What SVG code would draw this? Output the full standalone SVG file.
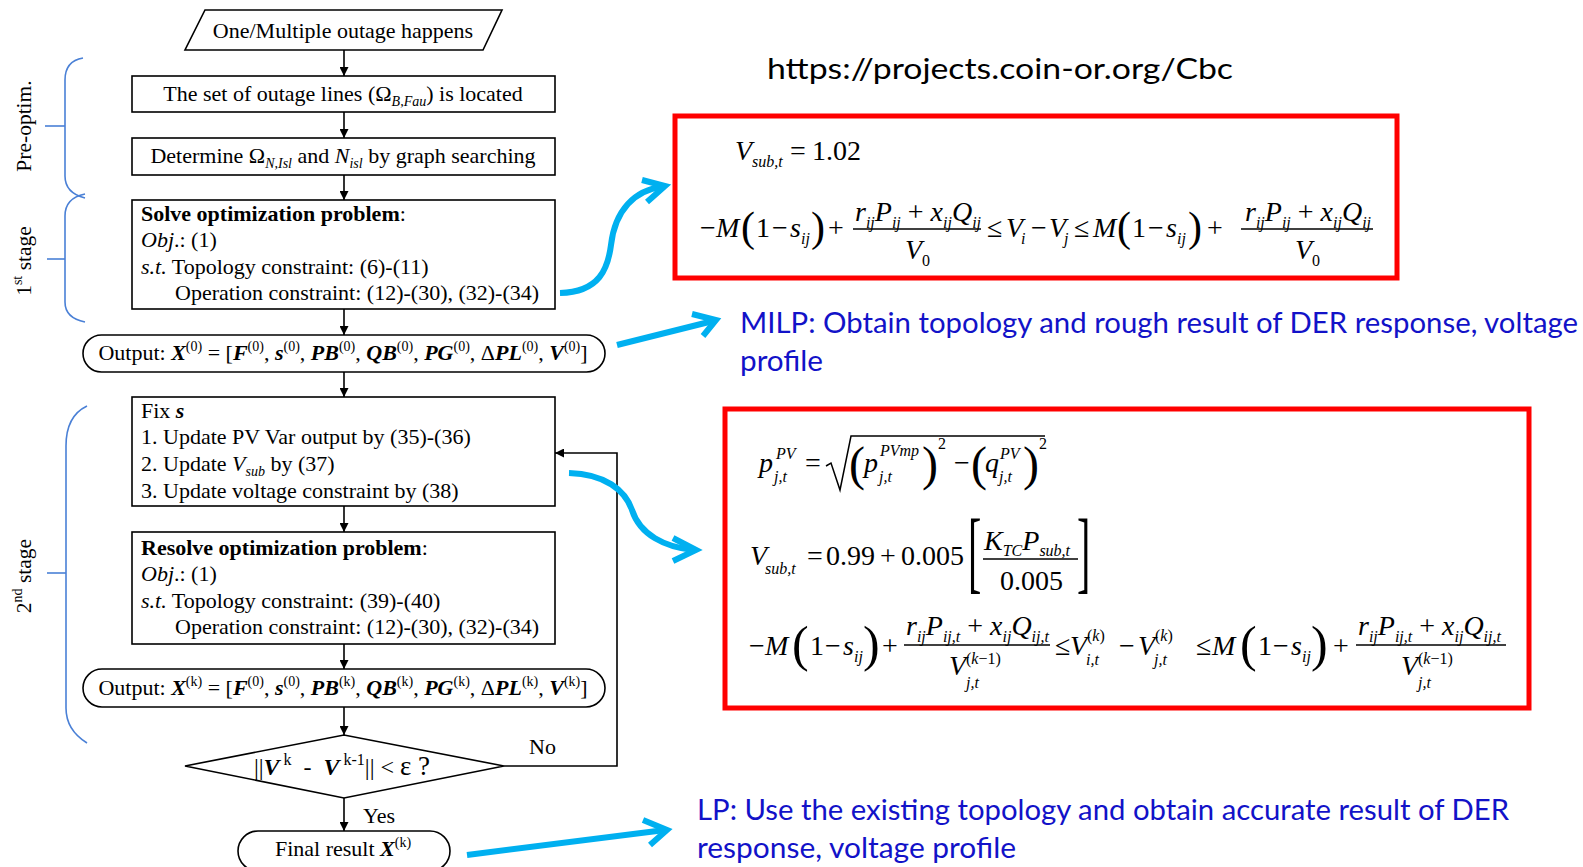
<svg xmlns="http://www.w3.org/2000/svg" width="1583" height="867" viewBox="0 0 1583 867">
<defs>
<marker id="ah" viewBox="0 0 10 10" refX="10" refY="5" markerWidth="10" markerHeight="9" markerUnits="userSpaceOnUse" orient="auto"><path d="M0,0 L10,5 L0,10 z" fill="#000"/></marker>
<style>
.t{font-family:"Liberation Serif","Times New Roman",serif;font-size:22px;fill:#000}
.lb{font-size:21.5px}
.dt{font-size:24px}
.b{font-weight:bold}
.i{font-style:italic}
.bi{font-weight:bold;font-style:italic}
.sb{font-size:14px;font-style:italic;font-weight:normal}
.sp{font-size:14px;font-style:normal;font-weight:normal}
.sp2{font-size:16px;font-style:normal;font-weight:normal}
.eps{font-size:27px}
.box{fill:#fff;stroke:#000;stroke-width:1.6}
.con{fill:none;stroke:#000;stroke-width:1.6}
.brk{fill:none;stroke:#4a80d6;stroke-width:1.6}
.cy{fill:none;stroke:#00b0f0;stroke-width:6}
.red{fill:#fff;stroke:#ff0000;stroke-width:5}
.m{font-family:"Liberation Serif","Times New Roman",serif;font-size:28px;fill:#000}
.mi{font-family:"Liberation Serif","Times New Roman",serif;font-size:28px;font-style:italic;fill:#000}
.s16{font-family:"Liberation Serif","Times New Roman",serif;font-size:16px;font-style:italic;fill:#000}
.u16{font-family:"Liberation Serif","Times New Roman",serif;font-size:16px;font-style:normal;fill:#000}
.up{font-style:normal}
.bar{stroke:#000;stroke-width:1.3}
.cal{font-family:Lato,"Open Sans",sans-serif;font-size:29px}
.lbl{fill:#1212c8}
</style>
</defs>
<rect width="1583" height="867" fill="#fff"/>

<g id="brackets">
<path class="brk" d="M83 58 Q65 61 65 80 L65 176 Q65 193 85 198"/>
<path class="brk" d="M45 126 H65"/>
<text class="t lb" transform="translate(31,126) rotate(-90)" text-anchor="middle">Pre-optim.</text>
<path class="brk" d="M85 194 Q65 198 65 216 L65 302 Q65 318 85 322"/>
<path class="brk" d="M47 259 H65"/>
<text class="t lb" transform="translate(31,261) rotate(-90)" text-anchor="middle">1<tspan class="sp" dy="-9">st</tspan><tspan dy="9"> stage</tspan></text>
<path class="brk" d="M87 406 Q66 416 66 446 L66 708 Q66 730 87 743"/>
<path class="brk" d="M47 573 H66"/>
<text class="t lb" transform="translate(31,576) rotate(-90)" text-anchor="middle">2<tspan class="sp" dy="-9">nd</tspan><tspan dy="9"> stage</tspan></text>
</g>

<g id="connectors">
<path class="con" d="M344 50 V76" marker-end="url(#ah)"/>
<path class="con" d="M344 112 V138" marker-end="url(#ah)"/>
<path class="con" d="M344 175 V200" marker-end="url(#ah)"/>
<path class="con" d="M344 309 V335" marker-end="url(#ah)"/>
<path class="con" d="M344 372 V397" marker-end="url(#ah)"/>
<path class="con" d="M344 506 V532" marker-end="url(#ah)"/>
<path class="con" d="M344 644 V669" marker-end="url(#ah)"/>
<path class="con" d="M344 707 V735" marker-end="url(#ah)"/>
<path class="con" d="M344 798 V831" marker-end="url(#ah)"/>
<path class="con" d="M504 766 H617 V453 H555" marker-end="url(#ah)"/>
<text class="t" x="529" y="754">No</text>
<text class="t" x="363" y="823">Yes</text>
</g>

<g id="n-start">
<polygon class="box" points="205,10 502,10 483,50 185,50"/>
<text class="t" x="343" y="38" text-anchor="middle">One/Multiple outage happens</text>
</g>
<g id="n-locate">
<rect class="box" x="132" y="76" width="423" height="36"/>
<text class="t" x="343" y="101" text-anchor="middle">The set of outage lines (Ω<tspan class="sb" dy="5">B,Fau</tspan><tspan dy="-5">) is located</tspan></text>
</g>
<g id="n-determine">
<rect class="box" x="132" y="138" width="423" height="37"/>
<text class="t" x="343" y="163" text-anchor="middle">Determine Ω<tspan class="sb" dy="5">N,Isl</tspan><tspan dy="-5"> and </tspan><tspan class="i">N</tspan><tspan class="sb" dy="5">isl</tspan><tspan dy="-5"> by graph searching</tspan></text>
</g>
<g id="n-solve">
<rect class="box" x="132" y="200" width="423" height="109"/>
<text class="t" x="141" y="221"><tspan class="b">Solve optimization problem</tspan>:</text>
<text class="t" x="141" y="247"><tspan class="i">Obj</tspan>.: (1)</text>
<text class="t" x="141" y="274"><tspan class="i">s.t.</tspan> Topology constraint: (6)-(11)</text>
<text class="t" x="175" y="300">Operation constraint: (12)-(30), (32)-(34)</text>
</g>
<g id="n-out0">
<rect class="box" x="83" y="335" width="522" height="37" rx="18.5"/>
<text class="t" x="343" y="360" text-anchor="middle">Output: <tspan class="bi">X</tspan><tspan class="sp" dy="-9">(0)</tspan><tspan dy="9"> = [</tspan><tspan class="bi">F</tspan><tspan class="sp" dy="-9">(0)</tspan><tspan dy="9">, </tspan><tspan class="bi">s</tspan><tspan class="sp" dy="-9">(0)</tspan><tspan dy="9">, </tspan><tspan class="bi">PB</tspan><tspan class="sp" dy="-9">(0)</tspan><tspan dy="9">, </tspan><tspan class="bi">QB</tspan><tspan class="sp" dy="-9">(0)</tspan><tspan dy="9">, </tspan><tspan class="bi">PG</tspan><tspan class="sp" dy="-9">(0)</tspan><tspan dy="9">, Δ</tspan><tspan class="bi">PL</tspan><tspan class="sp" dy="-9">(0)</tspan><tspan dy="9">, </tspan><tspan class="bi">V</tspan><tspan class="sp" dy="-9">(0)</tspan><tspan dy="9">]</tspan></text>
</g>
<g id="n-fix">
<rect class="box" x="132" y="397" width="423" height="109"/>
<text class="t" x="141" y="418">Fix <tspan class="bi">s</tspan></text>
<text class="t" x="141" y="444">1. Update PV Var output by (35)-(36)</text>
<text class="t" x="141" y="471">2. Update <tspan class="i">V</tspan><tspan class="sb" dy="5">sub</tspan><tspan dy="-5"> by (37)</tspan></text>
<text class="t" x="141" y="498">3. Update voltage constraint by (38)</text>
</g>
<g id="n-resolve">
<rect class="box" x="132" y="532" width="423" height="112"/>
<text class="t" x="141" y="555"><tspan class="b">Resolve optimization problem</tspan>:</text>
<text class="t" x="141" y="581"><tspan class="i">Obj</tspan>.: (1)</text>
<text class="t" x="141" y="608"><tspan class="i">s.t.</tspan> Topology constraint: (39)-(40)</text>
<text class="t" x="175" y="634">Operation constraint: (12)-(30), (32)-(34)</text>
</g>
<g id="n-outk">
<rect class="box" x="83" y="669" width="522" height="38" rx="19"/>
<text class="t" x="343" y="695" text-anchor="middle">Output: <tspan class="bi">X</tspan><tspan class="sp" dy="-9">(k)</tspan><tspan dy="9"> = [</tspan><tspan class="bi">F</tspan><tspan class="sp" dy="-9">(0)</tspan><tspan dy="9">, </tspan><tspan class="bi">s</tspan><tspan class="sp" dy="-9">(0)</tspan><tspan dy="9">, </tspan><tspan class="bi">PB</tspan><tspan class="sp" dy="-9">(k)</tspan><tspan dy="9">, </tspan><tspan class="bi">QB</tspan><tspan class="sp" dy="-9">(k)</tspan><tspan dy="9">, </tspan><tspan class="bi">PG</tspan><tspan class="sp" dy="-9">(k)</tspan><tspan dy="9">, Δ</tspan><tspan class="bi">PL</tspan><tspan class="sp" dy="-9">(k)</tspan><tspan dy="9">, </tspan><tspan class="bi">V</tspan><tspan class="sp" dy="-9">(k)</tspan><tspan dy="9">]</tspan></text>
</g>
<g id="n-check">
<polygon class="box" points="185,766 344,735 504,766 344,798"/>
<text class="t dt" x="342" y="775" text-anchor="middle">||<tspan class="bi">V</tspan><tspan class="sp2" dy="-10">&#160;k</tspan><tspan dy="10">&#160;&#160;-&#160;&#160;</tspan><tspan class="bi">V</tspan><tspan class="sp2" dy="-10">&#160;k-1</tspan><tspan dy="10">|| &lt; </tspan><tspan class="eps">ε ?</tspan></text>
</g>
<g id="n-final">
<rect class="box" x="238" y="831" width="212" height="40" rx="20"/>
<text class="t" x="343" y="856" text-anchor="middle">Final result <tspan class="bi">X</tspan><tspan class="sp" dy="-9">(k)</tspan></text>
</g>

<g id="url">
<text class="cal" x="767" y="79" fill="#000" textLength="466" lengthAdjust="spacingAndGlyphs">https://projects.coin-or.org/Cbc</text>
</g>

<g id="eq-milp">
<rect class="red" x="675" y="116" width="722" height="162"/>
<text class="mi" x="735" y="160">V</text>
<text class="s16" x="752" y="167">sub,t</text>
<text class="m" x="790" y="160">=</text>
<text class="m" x="812" y="160">1.02</text>
<text class="m" x="700" y="237">−</text>
<text class="mi" x="716" y="237">M</text>
<text class="m" x="741" y="241" style="font-size:42px">(</text>
<text class="m" x="756" y="237">1</text>
<text class="m" x="772" y="237">−</text>
<text class="mi" x="790" y="237">s</text>
<text class="s16" x="801" y="244">ij</text>
<text class="m" x="811" y="241" style="font-size:42px">)</text>
<text class="m" x="828" y="237">+</text>
<text class="mi" x="855" y="221">r<tspan class="s16" dy="7">ij</tspan><tspan dy="-7">P</tspan><tspan class="s16" dy="7">ij</tspan><tspan class="up" dy="-7"> + </tspan>x<tspan class="s16" dy="7">ij</tspan><tspan dy="-7">Q</tspan><tspan class="s16" dy="7">ij</tspan></text>
<line class="bar" x1="853" y1="229" x2="981" y2="229"/>
<text class="mi" x="905" y="259">V<tspan class="u16" dy="7">0</tspan></text>
<text class="m" x="987" y="237">≤</text>
<text class="mi" x="1006" y="237">V</text>
<text class="s16" x="1021" y="244">i</text>
<text class="m" x="1031" y="237">−</text>
<text class="mi" x="1049" y="237">V</text>
<text class="s16" x="1064" y="244">j</text>
<text class="m" x="1074" y="237">≤</text>
<text class="mi" x="1093" y="237">M</text>
<text class="m" x="1117" y="241" style="font-size:42px">(</text>
<text class="m" x="1132" y="237">1</text>
<text class="m" x="1148" y="237">−</text>
<text class="mi" x="1166" y="237">s</text>
<text class="s16" x="1177" y="244">ij</text>
<text class="m" x="1188" y="241" style="font-size:42px">)</text>
<text class="m" x="1207" y="237">+</text>
<text class="mi" x="1245" y="221">r<tspan class="s16" dy="7">ij</tspan><tspan dy="-7">P</tspan><tspan class="s16" dy="7">ij</tspan><tspan class="up" dy="-7"> + </tspan>x<tspan class="s16" dy="7">ij</tspan><tspan dy="-7">Q</tspan><tspan class="s16" dy="7">ij</tspan></text>
<line class="bar" x1="1241" y1="229" x2="1373" y2="229"/>
<text class="mi" x="1295" y="259">V<tspan class="u16" dy="7">0</tspan></text>
</g>

<g id="eq-lp">
<rect class="red" x="725" y="409" width="804" height="299"/>
<text class="mi" x="759" y="472">p</text>
<text class="s16" x="776" y="459">PV</text>
<text class="s16" x="774" y="482">j,t</text>
<text class="m" x="805" y="472">=</text>
<path d="M826 466 L831 463 L840 490 L851 436 H1045" fill="none" stroke="#000" stroke-width="1.5"/>
<text class="m" x="849" y="480" style="font-size:48px">(</text>
<text class="mi" x="864" y="472">p</text>
<text class="s16" x="880" y="456">PVmp</text>
<text class="s16" x="879" y="482">j,t</text>
<text class="m" x="922" y="480" style="font-size:48px">)</text>
<text class="u16" x="938" y="449">2</text>
<text class="m" x="954" y="472">−</text>
<text class="m" x="971" y="480" style="font-size:48px">(</text>
<text class="mi" x="985" y="472">q</text>
<text class="s16" x="1000" y="459">PV</text>
<text class="s16" x="999" y="482">j,t</text>
<text class="m" x="1023" y="480" style="font-size:48px">)</text>
<text class="u16" x="1039" y="449">2</text>

<text class="mi" x="750" y="565">V</text>
<text class="s16" x="765" y="574">sub,t</text>
<text class="m" x="807" y="565">=</text>
<text class="m" x="826" y="565">0.99</text>
<text class="m" x="880" y="565">+</text>
<text class="m" x="901" y="565">0.005</text>
<text class="m" style="font-size:40px" transform="translate(968,582) scale(1,2.26)">[</text>
<text class="mi" x="984" y="550">K<tspan class="s16" dy="6">TC</tspan><tspan dy="-6">P</tspan><tspan class="s16" dy="6">sub,t</tspan></text>
<line class="bar" x1="983" y1="559" x2="1078" y2="559"/>
<text class="m" x="1000" y="590">0.005</text>
<text class="m" style="font-size:40px" transform="translate(1077,582) scale(1,2.26)">]</text>

<text class="m" x="749" y="655">−</text>
<text class="mi" x="765" y="655">M</text>
<text class="m" x="792" y="661" style="font-size:50px">(</text>
<text class="m" x="810" y="655">1</text>
<text class="m" x="825" y="655">−</text>
<text class="mi" x="843" y="655">s</text>
<text class="s16" x="854" y="662">ij</text>
<text class="m" x="863" y="661" style="font-size:50px">)</text>
<text class="m" x="882" y="655">+</text>
<text class="mi" x="906" y="635">r<tspan class="s16" dy="7">ij</tspan><tspan dy="-7">P</tspan><tspan class="s16" dy="7">ij,t</tspan><tspan class="up" dy="-7"> + </tspan>x<tspan class="s16" dy="7">ij</tspan><tspan dy="-7">Q</tspan><tspan class="s16" dy="7">ij,t</tspan></text>
<line class="bar" x1="904" y1="645" x2="1050" y2="645"/>
<text class="mi" x="949" y="675">V</text>
<text class="u16" x="966" y="664">(<tspan class="s16">k</tspan>−1)</text>
<text class="s16" x="966" y="688">j,t</text>
<text class="m" x="1055" y="655">≤</text>
<text class="mi" x="1070" y="655">V</text>
<text class="u16" x="1087" y="641">(<tspan class="s16">k</tspan>)</text>
<text class="s16" x="1086" y="665">i,t</text>
<text class="m" x="1119" y="655">−</text>
<text class="mi" x="1138" y="655">V</text>
<text class="u16" x="1155" y="641">(<tspan class="s16">k</tspan>)</text>
<text class="s16" x="1154" y="665">j,t</text>
<text class="m" x="1196" y="655">≤</text>
<text class="mi" x="1212" y="655">M</text>
<text class="m" x="1240" y="661" style="font-size:50px">(</text>
<text class="m" x="1258" y="655">1</text>
<text class="m" x="1273" y="655">−</text>
<text class="mi" x="1291" y="655">s</text>
<text class="s16" x="1302" y="662">ij</text>
<text class="m" x="1311" y="661" style="font-size:50px">)</text>
<text class="m" x="1333" y="655">+</text>
<text class="mi" x="1358" y="635">r<tspan class="s16" dy="7">ij</tspan><tspan dy="-7">P</tspan><tspan class="s16" dy="7">ij,t</tspan><tspan class="up" dy="-7"> + </tspan>x<tspan class="s16" dy="7">ij</tspan><tspan dy="-7">Q</tspan><tspan class="s16" dy="7">ij,t</tspan></text>
<line class="bar" x1="1356" y1="645" x2="1506" y2="645"/>
<text class="mi" x="1401" y="675">V</text>
<text class="u16" x="1418" y="664">(<tspan class="s16">k</tspan>−1)</text>
<text class="s16" x="1418" y="688">j,t</text>
</g>

<g id="callouts">
<text class="cal lbl" x="740" y="333" textLength="838" lengthAdjust="spacingAndGlyphs">MILP: Obtain topology and rough result of DER response, voltage</text>
<text class="cal lbl" x="740" y="371" textLength="83" lengthAdjust="spacingAndGlyphs">profile</text>
<text class="cal lbl" x="697" y="820" textLength="812" lengthAdjust="spacingAndGlyphs">LP: Use the existing topology and obtain accurate result of DER</text>
<text class="cal lbl" x="697" y="858" textLength="319" lengthAdjust="spacingAndGlyphs">response, voltage profile</text>
</g>

<g id="blue-arrows">
<path class="cy" d="M560 293 C600 292 608 268 611 245 C615 210 635 190 662 187"/>
<path class="cy" d="M642 180 L665 186 L647 202"/>
<path class="cy" d="M617 345 L713 321"/>
<path class="cy" d="M692 314 L716 320 L703 336"/>
<path class="cy" d="M569 473 C605 474 625 490 632 510 C640 535 665 547 693 550"/>
<path class="cy" d="M673 538 L696 550 L673 561"/>
<path class="cy" d="M467 855 L665 830"/>
<path class="cy" d="M643 820 L667 830 L650 845"/>
</g>
</svg>
